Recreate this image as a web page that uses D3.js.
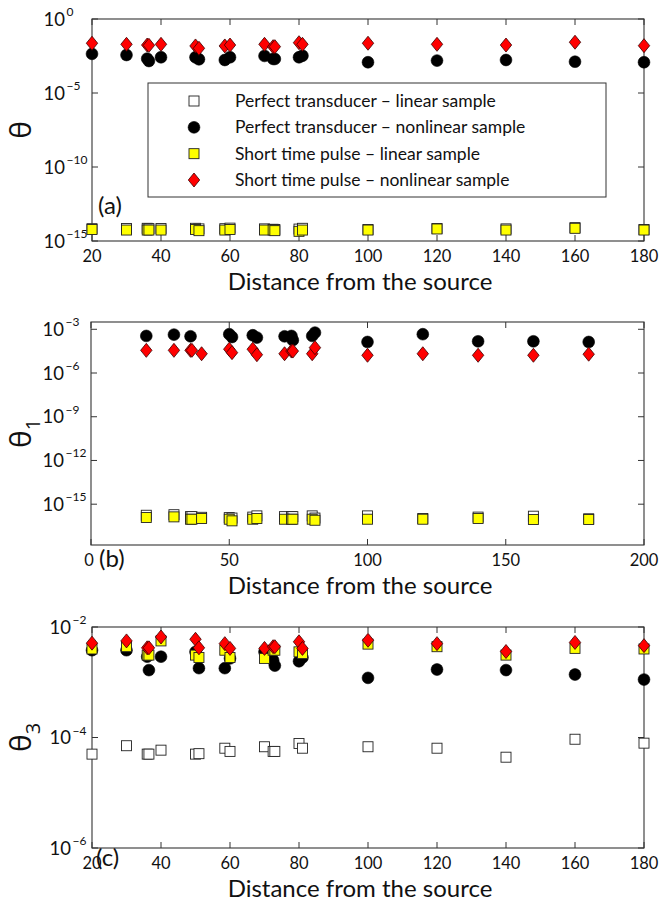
<!DOCTYPE html>
<html>
<head>
<meta charset="utf-8">
<script src="https://cdn.jsdelivr.net/npm/d3@7"></script>
<style>
  body { margin: 0; background: #fff; }
  svg { display: block; }
  text { font-family: Lato, "Open Sans", sans-serif; fill: #111; }
</style>
</head>
<body>
<svg id="chart" width="669" height="905"></svg>
<script>
// Source distances (shared by all three panels)
const distance = [20, 30, 36, 36.5, 40, 50, 51, 58.5, 60, 70, 72.5, 73, 80, 81, 100, 120, 140, 160, 180];

// Series names (legend order = drawing order)
const seriesNames = [
  "Perfect transducer \u2013 linear sample",
  "Perfect transducer \u2013 nonlinear sample",
  "Short time pulse \u2013 linear sample",
  "Short time pulse \u2013 nonlinear sample"
];

// Panel (a): theta
const thetaPerfectLinear    = [6.8e-15, 7.0e-15, 7.2e-15, 6.9e-15, 7.0e-15, 7.2e-15, 6.6e-15, 6.8e-15, 7.4e-15, 6.6e-15, 6.2e-15, 6.0e-15, 6.4e-15, 7.2e-15, 6.0e-15, 7.0e-15, 6.6e-15, 8.0e-15, 6.0e-15];
const thetaPerfectNonlinear = [4.4e-3, 3.7e-3, 2.1e-3, 1.45e-3, 2.6e-3, 2.6e-3, 1.9e-3, 1.7e-3, 2.6e-3, 3.2e-3, 2.0e-3, 2.0e-3, 2.6e-3, 3.3e-3, 1.2e-3, 1.55e-3, 1.7e-3, 1.3e-3, 1.2e-3];
const thetaPulseLinear      = [6.0e-15, 5.5e-15, 5.5e-15, 5.5e-15, 5.5e-15, 6.0e-15, 5.0e-15, 5.5e-15, 6.0e-15, 5.5e-15, 5.5e-15, 5.0e-15, 4.5e-15, 5.5e-15, 5.5e-15, 6.5e-15, 5.5e-15, 7.2e-15, 5.5e-15];
const thetaPulseNonlinear   = [2.3e-2, 1.95e-2, 1.74e-2, 1.66e-2, 1.95e-2, 1.51e-2, 1.05e-2, 1.51e-2, 1.74e-2, 1.95e-2, 1.35e-2, 1.35e-2, 2.5e-2, 1.95e-2, 2.3e-2, 1.95e-2, 1.74e-2, 2.7e-2, 1.58e-2];

// Panel (b): theta_1
const theta1PerfectLinear    = [1.74e-16, 1.9e-16, 1.4e-16, 1.4e-16, 1.26e-16, 1.2e-16, 1.12e-16, 1.3e-16, 1.58e-16, 1.4e-16, 1.4e-16, 1.4e-16, 1.58e-16, 1.12e-16, 1.58e-16, 1.05e-16, 1.3e-16, 1.5e-16, 1.0e-16];
const theta1PerfectNonlinear = [3.5e-4, 4.3e-4, 3.3e-4, null, null, 4.6e-4, 2.95e-4, 3.9e-4, 2.7e-4, 3.3e-4, 3.5e-4, 1.8e-4, 3.5e-4, 5.9e-4, 1.35e-4, 4.6e-4, 1.5e-4, 1.5e-4, 1.35e-4];
const theta1PulseLinear      = [1.23e-16, 1.35e-16, 9.3e-17, 9.3e-17, 1.05e-16, 9.3e-17, 7.2e-17, 9.3e-17, 1.05e-16, 9.3e-17, 9.3e-17, 9.3e-17, 9.3e-17, 7.9e-17, 9.3e-17, 9.3e-17, 1.05e-16, 8.9e-17, 8.9e-17];
const theta1PulseNonlinear   = [3.6e-5, 3.6e-5, 3.6e-5, 3.6e-5, 2.1e-5, 4.3e-5, 2.5e-5, 4.3e-5, 1.8e-5, 2.1e-5, 3.2e-5, 3.2e-5, 2.1e-5, 5.5e-5, 1.65e-5, 2.1e-5, 1.65e-5, 1.65e-5, 1.95e-5];

// Panel (c): theta_3
const theta3PerfectLinear    = [5.0e-5, 7.1e-5, 5.0e-5, 5.0e-5, 5.9e-5, 5.0e-5, 5.1e-5, 6.4e-5, 5.6e-5, 6.8e-5, 5.6e-5, 5.6e-5, 7.8e-5, 6.4e-5, 6.8e-5, 6.4e-5, 4.4e-5, 9.3e-5, 7.9e-5];
const theta3PerfectNonlinear = [3.8e-3, 3.8e-3, 2.9e-3, 1.66e-3, 2.9e-3, 3.55e-3, 1.8e-3, 1.8e-3, 2.7e-3, 3.55e-3, 2.5e-3, 2.0e-3, 2.4e-3, 2.8e-3, 1.2e-3, 1.7e-3, 1.66e-3, 1.38e-3, 1.12e-3];
const theta3PulseLinear      = [4.0e-3, 4.4e-3, 3.1e-3, 3.1e-3, 5.6e-3, 3.1e-3, 2.8e-3, 3.8e-3, 2.8e-3, 2.7e-3, 3.8e-3, 3.8e-3, 3.55e-3, 3.3e-3, 4.9e-3, 4.4e-3, 3.1e-3, 4.1e-3, 4.0e-3];
const theta3PulseNonlinear   = [5.1e-3, 5.6e-3, 4.2e-3, 4.2e-3, 6.6e-3, 6.0e-3, 4.2e-3, 5.0e-3, 4.1e-3, 4.1e-3, 4.4e-3, 4.4e-3, 5.4e-3, 4.1e-3, 5.75e-3, 5.0e-3, 3.6e-3, 5.25e-3, 4.6e-3];

// Axis ticks
const xTicksAC = [20, 40, 60, 80, 100, 120, 140, 160, 180];
const xTicksB  = [0, 50, 100, 150, 200];
const yTicksA  = [1, 1e-5, 1e-10, 1e-15];
const yTicksB  = [1e-3, 1e-6, 1e-9, 1e-12, 1e-15];
const yTicksC  = [1e-2, 1e-4, 1e-6];

const xTitle = "Distance from the source";

// Marker styles per series
const markerStyles = [
  { shape: "square",  fill: "#ffffff", stroke: "#222" },
  { shape: "circle",  fill: "#000000", stroke: "#000" },
  { shape: "square",  fill: "#ffff00", stroke: "#222" },
  { shape: "diamond", fill: "#ff0000", stroke: "#3a0000" }
];

// Panel layout
const panels = [
  {
    tag: "(a)", tagPos: [98, 214], yName: "\u03b8", sub: null,
    left: 92, right: 644, top: 19, bottom: 241,
    xDomain: [20, 180], xTicks: xTicksAC,
    yDomain: [1e-15, 1], yTicks: yTicksA, labelRight: 65,
    series: [thetaPerfectLinear, thetaPerfectNonlinear, thetaPulseLinear, thetaPulseNonlinear],
    legend: true
  },
  {
    tag: "(b)", tagPos: [99, 567], yName: "\u03b8", sub: "1",
    left: 91, right: 644, top: 322, bottom: 545,
    xDomain: [0, 200], xTicks: xTicksB,
    yDomain: [Math.pow(10, -17.8), Math.pow(10, -2.5)], yTicks: yTicksB, labelRight: 64,
    series: [theta1PerfectLinear, theta1PerfectNonlinear, theta1PulseLinear, theta1PulseNonlinear],
    legend: false
  },
  {
    tag: "(c)", tagPos: [96, 866], yName: "\u03b8", sub: "3",
    left: 92, right: 644, top: 627, bottom: 848,
    xDomain: [20, 180], xTicks: xTicksAC,
    yDomain: [1e-6, 1e-2], yTicks: yTicksC, labelRight: 71,
    series: [theta3PerfectLinear, theta3PerfectNonlinear, theta3PulseLinear, theta3PulseNonlinear],
    legend: false
  }
];

const svg = d3.select("#chart");
const axisColor = "#333";

function drawMarker(g, style, cx, cy) {
  if (style.shape === "circle") {
    g.append("circle").attr("cx", cx).attr("cy", cy).attr("r", 5.9)
      .attr("fill", style.fill).attr("stroke", style.stroke).attr("stroke-width", 0.6);
  } else if (style.shape === "square") {
    const s = 10;
    g.append("rect").attr("x", cx - s / 2).attr("y", cy - s / 2).attr("width", s).attr("height", s)
      .attr("fill", style.fill).attr("stroke", style.stroke).attr("stroke-width", 0.9);
  } else {
    const w = 5.7, h = 7;
    g.append("path")
      .attr("d", `M${cx},${cy - h}L${cx + w},${cy}L${cx},${cy + h}L${cx - w},${cy}Z`)
      .attr("fill", style.fill).attr("stroke", style.stroke).attr("stroke-width", 0.8);
  }
}

panels.forEach(p => {
  const x = d3.scaleLinear().domain(p.xDomain).range([p.left, p.right]);
  const y = d3.scaleLog().domain(p.yDomain).range([p.bottom, p.top]);
  const g = svg.append("g");

  // frame
  g.append("rect").attr("x", p.left).attr("y", p.top)
    .attr("width", p.right - p.left).attr("height", p.bottom - p.top)
    .attr("fill", "none").attr("stroke", axisColor).attr("stroke-width", 1.1);

  // inward ticks on all four sides
  const tickLen = 6;
  const tickStyle = sel => sel.attr("stroke", axisColor).attr("stroke-width", 1);
  p.xTicks.forEach(t => {
    g.append("line").attr("x1", x(t)).attr("x2", x(t)).attr("y1", p.bottom).attr("y2", p.bottom - tickLen).call(tickStyle);
    g.append("line").attr("x1", x(t)).attr("x2", x(t)).attr("y1", p.top).attr("y2", p.top + tickLen).call(tickStyle);
  });
  p.yTicks.forEach(t => {
    g.append("line").attr("x1", p.left).attr("x2", p.left + tickLen).attr("y1", y(t)).attr("y2", y(t)).call(tickStyle);
    g.append("line").attr("x1", p.right).attr("x2", p.right - tickLen).attr("y1", y(t)).attr("y2", y(t)).call(tickStyle);
  });

  // x tick labels
  g.selectAll(".xl").data(p.xTicks).enter().append("text")
    .attr("x", d => x(d) - (d === 0 ? 2 : 0)).attr("y", p.bottom + 21)
    .attr("text-anchor", "middle").attr("font-size", 16.5)
    .text(d => d);

  // y tick labels: 10 with exponent
  p.yTicks.forEach(t => {
    const e = Math.round(Math.log10(t));
    const ty = y(t);
    g.append("text").attr("x", p.labelRight).attr("y", ty + 6.5)
      .attr("text-anchor", "end").attr("font-size", 18.5).text("10");
    g.append("text").attr("x", p.labelRight + 1.5).attr("y", ty - 3)
      .attr("font-size", 12).text(e === 0 ? "0" : "\u2212" + Math.abs(e));
  });

  // x axis title
  g.append("text").attr("x", 360).attr("y", p.bottom + 49)
    .attr("text-anchor", "middle").attr("font-size", 24).text(xTitle);

  // y axis title
  const yt = g.append("text")
    .attr("transform", `translate(31,${(p.top + p.bottom) / 2}) rotate(-90)`)
    .attr("text-anchor", "middle")
    .style("font-family", "'Open Sans', sans-serif");
  yt.append("tspan").attr("font-size", 30).text(p.yName);
  if (p.sub) yt.append("tspan").attr("font-size", 20).attr("dy", 9).text(p.sub);

  // panel tag
  g.append("text").attr("x", p.tagPos[0]).attr("y", p.tagPos[1]).attr("font-size", 24).text(p.tag);

  // markers, series by series
  p.series.forEach((vals, si) => {
    const sg = g.append("g");
    distance.forEach((d, i) => {
      if (vals[i] == null) return;
      drawMarker(sg, markerStyles[si], x(d), y(vals[i]));
    });
  });

  // legend
  if (p.legend) {
    const lg = g.append("g");
    lg.append("rect").attr("x", 148).attr("y", 83).attr("width", 458).attr("height", 114)
      .attr("fill", "#fff").attr("stroke", axisColor).attr("stroke-width", 1);
    const rowY = d3.scalePoint().domain(d3.range(seriesNames.length)).range([101, 180]);
    seriesNames.forEach((name, i) => {
      drawMarker(lg, markerStyles[i], 194, rowY(i));
      lg.append("text").attr("x", 235).attr("y", rowY(i) + 6)
        .attr("font-size", 17.5).text(name);
    });
  }
});
</script>
</body>
</html>
